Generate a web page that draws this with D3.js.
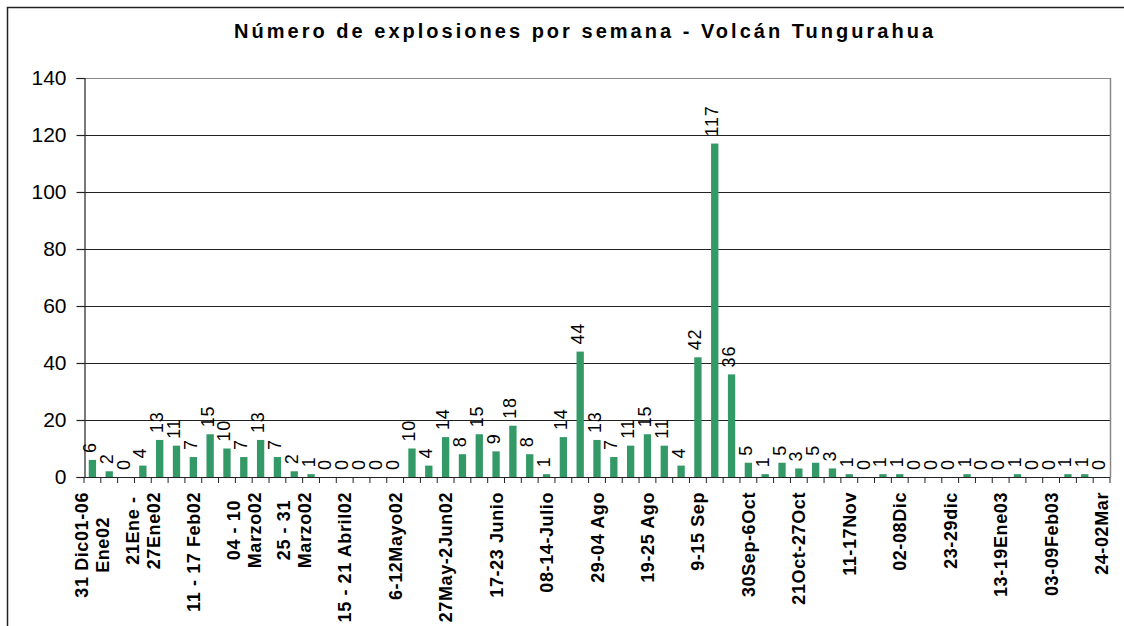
<!DOCTYPE html>
<html>
<head>
<meta charset="utf-8">
<script src="https://cdn.jsdelivr.net/npm/d3@7"></script>
<style>
  body { margin: 0; background: #fff; }
  svg { display: block; font-family: "Liberation Sans", Arial, sans-serif; }
</style>
</head>
<body>
<div id="chart"></div>
<script>
// explosions per week, 61 weeks
var values = [6, 2, 0, 4, 13, 11, 7, 15, 10, 7, 13, 7, 2, 1, 0, 0, 0, 0, 0, 10,
              4, 14, 8, 15, 9, 18, 8, 1, 14, 44, 13, 7, 11, 15, 11, 4, 42, 117, 36, 5,
              1, 5, 3, 5, 3, 1, 0, 1, 1, 0, 0, 0, 1, 0, 0, 1, 0, 0, 1, 1, 0];

// one label every third week
var week_labels = ["31 Dic01-06\nEne02", "21Ene -\n27Ene02", "11 - 17 Feb02", "04 - 10\nMarzo02",
                   "25 - 31\nMarzo02", "15 - 21 Abril02", "6-12Mayo02", "27May-2Jun02",
                   "17-23 Junio", "08-14-Julio", "29-04 Ago", "19-25 Ago", "9-15 Sep",
                   "30Sep-6Oct", "21Oct-27Oct", "11-17Nov", "02-08Dic", "23-29dic",
                   "13-19Ene03", "03-09Feb03", "24-02Mar"];
var label_step = 3;

var y_ticks = [0, 20, 40, 60, 80, 100, 120, 140];
var title = "Número de explosiones por semana - Volcán Tungurahua";

var width = 1124, height = 626;
var plot_left = 84, plot_right = 1110, plot_top = 78, plot_bottom = 477;

var svg = d3.select("#chart").append("svg")
  .attr("width", width).attr("height", height);

// chart area border (runs off the picture at right and bottom)
svg.append("rect")
  .attr("x", 7.5).attr("y", 7.5)
  .attr("width", 1130).attr("height", 650)
  .attr("fill", "#fff")
  .attr("stroke", "#222")
  .attr("stroke-width", 1.5);

svg.append("text")
  .attr("x", 583.5).attr("y", 38)
  .attr("text-anchor", "middle")
  .attr("font-size", 20)
  .attr("font-weight", "bold")
  .attr("textLength", 699)
  .attr("lengthAdjust", "spacing")
  .text(title);

var scalex = d3.scaleBand()
  .domain(d3.range(values.length))
  .range([plot_left, plot_right])
  .paddingInner(0.565)
  .paddingOuter(0.2825);

var band = (plot_right - plot_left) / values.length;

var scaley = d3.scaleLinear().domain([0, 140]).range([plot_bottom, plot_top]);

// gridlines
svg.selectAll("line.grid")
  .data(y_ticks.filter(function(d) { return d > 0; }))
  .enter()
  .append("line")
  .attr("class", "grid")
  .attr("x1", plot_left).attr("x2", plot_right)
  .attr("y1", function(d) { return Math.round(scaley(d)) + 0.5; })
  .attr("y2", function(d) { return Math.round(scaley(d)) + 0.5; })
  .attr("stroke", function(d) { return d == 140 ? "#888" : "#222"; })
  .attr("stroke-width", 1.2);

// right border of plot area
svg.append("line")
  .attr("x1", plot_right + 0.5).attr("x2", plot_right + 0.5)
  .attr("y1", scaley(140)).attr("y2", plot_bottom)
  .attr("stroke", "#888").attr("stroke-width", 1.5);

// y axis
var y_axis = d3.axisLeft(scaley).tickValues(y_ticks).tickSize(8).tickPadding(10);
var gy = svg.append("g")
  .attr("transform", "translate(" + (plot_left + 0.5) + ",0)")
  .call(y_axis);
gy.selectAll("text").attr("font-size", 21).attr("font-family", "Liberation Sans, Arial, sans-serif").attr("fill", "#000");
gy.selectAll("line, path").attr("stroke", "#222").attr("stroke-width", 1.2);

// bars
svg.selectAll("rect.bar")
  .data(values)
  .enter()
  .append("rect")
  .attr("class", "bar")
  .attr("x", function(d, i) { return scalex(i); })
  .attr("y", function(d) { return scaley(d); })
  .attr("width", scalex.bandwidth())
  .attr("height", function(d) { return plot_bottom - scaley(d); })
  .attr("fill", "#339966");

// x axis line + ticks on category boundaries
svg.append("line")
  .attr("x1", plot_left).attr("x2", plot_right)
  .attr("y1", plot_bottom + 0.5).attr("y2", plot_bottom + 0.5)
  .attr("stroke", "#222").attr("stroke-width", 1.2);

svg.selectAll("line.xtick")
  .data(d3.range(values.length + 1))
  .enter()
  .append("line")
  .attr("class", "xtick")
  .attr("x1", function(i) { return plot_left + i * band; })
  .attr("x2", function(i) { return plot_left + i * band; })
  .attr("y1", plot_bottom).attr("y2", plot_bottom + 6)
  .attr("stroke", "#222").attr("stroke-width", 1);

// value labels, rotated
svg.selectAll("text.value")
  .data(values)
  .enter()
  .append("text")
  .attr("class", "value")
  .attr("transform", function(d, i) {
    return "translate(" + (scalex(i) + scalex.bandwidth() / 2 + 3.5) + "," + (scaley(d) - 7) + ") rotate(-90)";
  })
  .attr("font-size", 18)
  .attr("letter-spacing", 0.8)
  .text(function(d) { return d; });

// category labels, every third week
var line_h = 21;
var glabels = svg.selectAll("g.xlabel")
  .data(week_labels)
  .enter()
  .append("g")
  .attr("class", "xlabel")
  .attr("transform", function(d, k) {
    var i = k * label_step;
    return "translate(" + (scalex(i) + scalex.bandwidth() / 2) + "," + 492 + ") rotate(-90)";
  });

glabels.each(function(d) {
  var g = d3.select(this);
  var lines = d.split("\n");
  var n = lines.length;
  var texts = lines.map(function(s, j) {
    return g.append("text")
      .attr("y", (j - (n - 1) / 2) * line_h + 6.5)
      .attr("font-size", 18)
      .attr("font-weight", "bold")
      .attr("letter-spacing", 0.6)
      .attr("text-anchor", "middle")
      .text(s);
  });
  var max_len = d3.max(texts, function(t) { return t.node().getComputedTextLength(); });
  texts.forEach(function(t) { t.attr("x", -max_len / 2); });
});
</script>
</body>
</html>
